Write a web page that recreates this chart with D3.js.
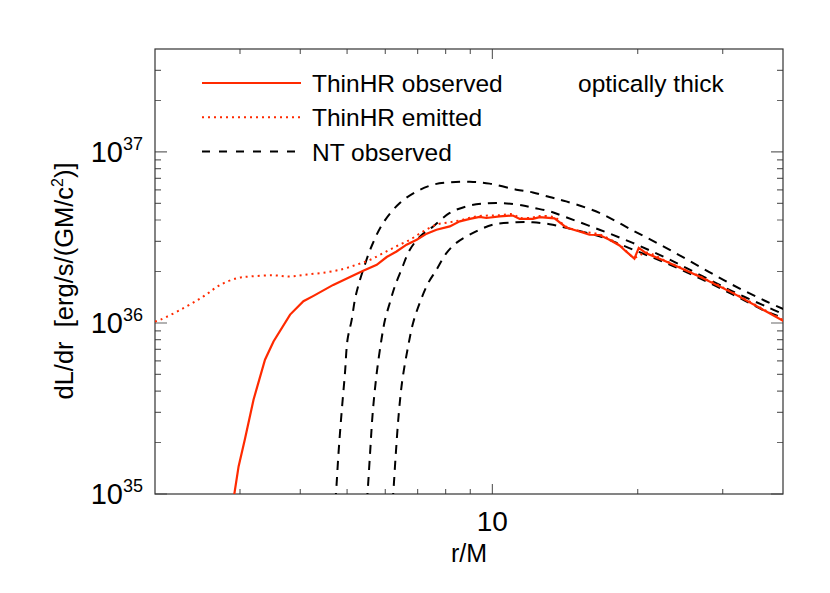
<!DOCTYPE html>
<html>
<head>
<meta charset="utf-8">
<script src="https://cdn.jsdelivr.net/npm/d3@7"></script>
<style>
  body { margin: 0; background: #fff; }
  text { font-family: "Liberation Sans", Arial, sans-serif; fill: #000; }
</style>
</head>
<body>
<svg width="830" height="593"></svg>
<script>
// ThinHR observed (red solid)
const R_OBS = [2.88, 2.92, 2.98, 3.07, 3.20, 3.38, 3.52, 3.81, 4.06, 4.26, 4.68, 5.07, 5.40, 5.76, 6.04, 6.33, 6.64, 6.97,
    7.31, 7.66, 8.16, 8.56, 8.98, 9.41, 9.72, 10.35, 11.03, 11.39, 12.13, 12.53, 13.45, 14.22, 15.15, 15.89, 16.67,
    17.48, 18.34, 18.92, 19.69, 20.10, 20.82, 22.90, 26.84, 31.45, 36.87, 40.5];
const L_OBS = [0.8e35, 1.0e35, 1.45e35, 2.08e35, 3.56e35, 6.10e35, 7.80e35, 1.12e36, 1.34e36, 1.44e36, 1.67e36, 1.86e36,
    2.02e36, 2.19e36, 2.43e36, 2.62e36, 2.87e36, 3.07e36, 3.33e36, 3.51e36, 3.67e36, 3.93e36, 4.06e36, 4.17e36, 4.11e36,
    4.20e36, 4.25e36, 4.06e36, 4.06e36, 4.16e36, 4.09e36, 3.62e36, 3.43e36, 3.28e36, 3.27e36, 3.07e36, 2.84e36, 2.62e36,
    2.38e36, 2.75e36, 2.56e36, 2.29e36, 1.87e36, 1.50e36, 1.17e36, 1.01e36];

// ThinHR emitted (red dotted)
const R_EMIT = [2.0, 2.06, 2.29, 2.52, 2.73, 2.96, 3.15, 3.52, 3.81, 4.13, 4.54, 4.91, 5.23, 5.58, 5.94, 6.33, 6.75, 7.19,
    7.66, 8.16, 8.69, 9.27, 10.35, 11.03, 11.39, 12.13, 12.53, 13.45, 14.22, 15.15, 16.67, 18.34, 19.69, 20.82, 22.90,
    26.84, 31.45, 36.87, 40.5];
const L_EMIT = [1.02e36, 1.05e36, 1.22e36, 1.43e36, 1.67e36, 1.83e36, 1.87e36, 1.90e36, 1.87e36, 1.92e36, 1.98e36, 2.07e36,
    2.19e36, 2.34e36, 2.56e36, 2.81e36, 3.07e36, 3.43e36, 3.76e36, 3.88e36, 4.02e36, 4.20e36, 4.27e36, 4.32e36, 4.12e36,
    4.14e36, 4.22e36, 4.14e36, 3.66e36, 3.45e36, 3.29e36, 2.86e36, 2.42e36, 2.58e36, 2.30e36, 1.88e36, 1.51e36, 1.18e36,
    1.02e36];

// NT observed (black dashed), three curves
const R_NT1 = [4.72, 4.74, 4.80, 4.87, 4.95, 5.01, 5.11, 5.19, 5.27, 5.40, 5.62, 5.94, 6.43, 6.97, 7.54, 8.16, 8.98,
    9.87, 11.21, 12.13, 13.14, 14.22, 16.67, 19.53, 22.90, 26.84, 31.45, 36.87, 40.5];
const L_NT1 = [0.9e35, 1.0e35, 1.74e35, 2.98e35, 5.10e35, 7.98e35, 1.04e36, 1.37e36, 1.64e36, 2.05e36, 2.81e36, 3.85e36,
    5.03e36, 5.88e36, 6.44e36, 6.64e36, 6.70e36, 6.53e36, 6.02e36, 5.80e36, 5.45e36, 5.14e36, 4.40e36, 3.48e36, 2.75e36,
    2.14e36, 1.67e36, 1.34e36, 1.19e36];

const R_NT2 = [5.49, 5.51, 5.58, 5.65, 5.76, 5.89, 5.99, 6.13, 6.28, 6.48, 6.75, 7.12, 7.54, 8.16, 8.84, 9.56, 10.52,
    11.57, 12.13, 13.14, 14.22, 16.67, 19.53, 22.90, 26.84, 31.45, 36.87, 40.5];
const L_NT2 = [0.9e35, 1.0e35, 1.74e35, 2.98e35, 5.10e35, 7.98e35, 1.04e36, 1.31e36, 1.64e36, 2.05e36, 2.69e36, 3.25e36,
    3.67e36, 4.40e36, 4.81e36, 4.99e36, 5.02e36, 4.87e36, 4.72e36, 4.50e36, 4.15e36, 3.51e36, 2.94e36, 2.40e36, 1.92e36,
    1.53e36, 1.25e36, 1.11e36];

const R_NT3 = [6.21, 6.23, 6.31, 6.40, 6.51, 6.69, 6.85, 7.07, 7.36, 7.66, 8.03, 8.42, 9.12, 10.03, 11.21, 12.13, 13.14,
    14.22, 16.67, 19.53, 22.90, 26.84, 31.45, 36.87, 40.5];
const L_NT3 = [0.9e35, 1.0e35, 1.74e35, 2.98e35, 4.66e35, 7.30e35, 1.0e36, 1.31e36, 1.71e36, 2.05e36, 2.56e36, 2.94e36,
    3.36e36, 3.76e36, 3.88e36, 3.88e36, 3.78e36, 3.60e36, 3.21e36, 2.69e36, 2.24e36, 1.83e36, 1.47e36, 1.17e36, 1.06e36];

const X_MAJOR = [10];
const X_MINOR = [3, 4, 5, 6, 7, 8, 9, 20, 30];
const Y_MAJOR = [1e35, 1e36, 1e37];
const Y_EXP = ["35", "36", "37"];
const Y_MINOR = [2e35, 3e35, 4e35, 5e35, 6e35, 7e35, 8e35, 9e35, 2e36, 3e36, 4e36, 5e36, 6e36, 7e36, 8e36, 9e36, 2e37, 3e37];

const LEGEND = ["ThinHR observed", "ThinHR emitted", "NT observed"];

const RED = '#ff2a00';
const plotLeft = 155, plotRight = 783, plotTop = 49, plotBottom = 494;

const x = d3.scaleLog().domain([2, 40]).range([plotLeft, plotRight]);
const y = d3.scaleLog().domain([1e35, 4e37]).range([plotBottom, plotTop]);

const svg = d3.select('svg');

svg.append('defs').append('clipPath').attr('id', 'plot')
    .append('rect')
    .attr('x', plotLeft).attr('y', plotTop)
    .attr('width', plotRight - plotLeft).attr('height', plotBottom - plotTop);

// ticks on all four sides, pointing inward
const segs = [];
function xTicks(values, len) {
    values.forEach(d => {
        segs.push([x(d), plotBottom, x(d), plotBottom - len]);
        segs.push([x(d), plotTop, x(d), plotTop + len]);
    });
}
function yTicks(values, len) {
    values.forEach(d => {
        segs.push([plotLeft, y(d), plotLeft + len, y(d)]);
        segs.push([plotRight, y(d), plotRight - len, y(d)]);
    });
}
xTicks(X_MAJOR, 10);
xTicks(X_MINOR, 5);
yTicks(Y_MAJOR, 12);
yTicks(Y_MINOR, 6);
svg.append('path')
    .attr('d', segs.map(s => `M${s[0]},${s[1]}L${s[2]},${s[3]}`).join(''))
    .attr('fill', 'none')
    .attr('stroke', '#666')
    .attr('stroke-width', 1.2);

svg.append('rect')
    .attr('x', plotLeft).attr('y', plotTop)
    .attr('width', plotRight - plotLeft).attr('height', plotBottom - plotTop)
    .attr('fill', 'none').attr('stroke', '#333').attr('stroke-width', 1.2);

// tick labels
svg.selectAll('.xlab')
    .data(X_MAJOR)
    .enter()
    .append('text')
    .attr('x', d => x(d))
    .attr('y', 531)
    .attr('text-anchor', 'middle')
    .attr('font-size', 28)
    .text(d => d);

const ylab = svg.selectAll('.ylab')
    .data(Y_MAJOR)
    .enter()
    .append('text')
    .attr('x', 143)
    .attr('y', d => y(d) + 10)
    .attr('text-anchor', 'end')
    .attr('font-size', 29);
ylab.append('tspan').text('10');
ylab.append('tspan')
    .attr('font-size', 18)
    .attr('dy', -12)
    .text((d, i) => Y_EXP[i]);

// axis titles
svg.append('text')
    .attr('x', (plotLeft + plotRight) / 2)
    .attr('y', 562)
    .attr('text-anchor', 'middle')
    .attr('font-size', 25)
    .text('r/M');

const yt = svg.append('text')
    .attr('transform', 'translate(73,281) rotate(-90)')
    .attr('text-anchor', 'middle')
    .attr('font-size', 25.5)
    .attr('xml:space', 'preserve');
yt.append('tspan').text('dL/dr  [erg/s/(GM/c');
yt.append('tspan').attr('font-size', 16).attr('dy', -10).text('2');
yt.append('tspan').attr('dy', 10).text(')]');

// curves
const line = d3.line()
    .x(d => x(d[0]))
    .y(d => y(d[1]));
const smooth = d3.line()
    .x(d => x(d[0]))
    .y(d => y(d[1]))
    .curve(d3.curveCatmullRom.alpha(0.5));

const plot = svg.append('g').attr('clip-path', 'url(#plot)');

[[R_NT1, L_NT1], [R_NT2, L_NT2], [R_NT3, L_NT3]].forEach(([rs, ls]) => {
    plot.append('path')
        .datum(rs.map((r, i) => [r, ls[i]]))
        .attr('d', smooth)
        .attr('fill', 'none')
        .attr('stroke', '#000')
        .attr('stroke-width', 2)
        .attr('stroke-dasharray', '9,7');
});

plot.append('path')
    .datum(R_EMIT.map((r, i) => [r, L_EMIT[i]]))
    .attr('d', smooth)
    .attr('fill', 'none')
    .attr('stroke', RED)
    .attr('stroke-width', 2)
    .attr('stroke-dasharray', '2,4');

plot.append('path')
    .datum(R_OBS.map((r, i) => [r, L_OBS[i]]))
    .attr('d', line)
    .attr('fill', 'none')
    .attr('stroke', RED)
    .attr('stroke-width', 2.2);

// legend
const legendStyles = [
    { stroke: RED, dash: null },
    { stroke: RED, dash: '2,4' },
    { stroke: '#000', dash: '8,9' },
];
const leg = svg.selectAll('.leg')
    .data(LEGEND)
    .enter()
    .append('g')
    .attr('transform', (d, i) => `translate(202,${83 + i * 34.3})`);
leg.append('line')
    .attr('x1', 0).attr('x2', 99)
    .attr('stroke', (d, i) => legendStyles[i].stroke)
    .attr('stroke-width', 2)
    .attr('stroke-dasharray', (d, i) => legendStyles[i].dash);
leg.append('text')
    .attr('x', 110)
    .attr('y', 9)
    .attr('font-size', 24.5)
    .text(d => d);

svg.append('text')
    .attr('x', 578)
    .attr('y', 92)
    .attr('font-size', 24.5)
    .text('optically thick');
</script>
</body>
</html>
